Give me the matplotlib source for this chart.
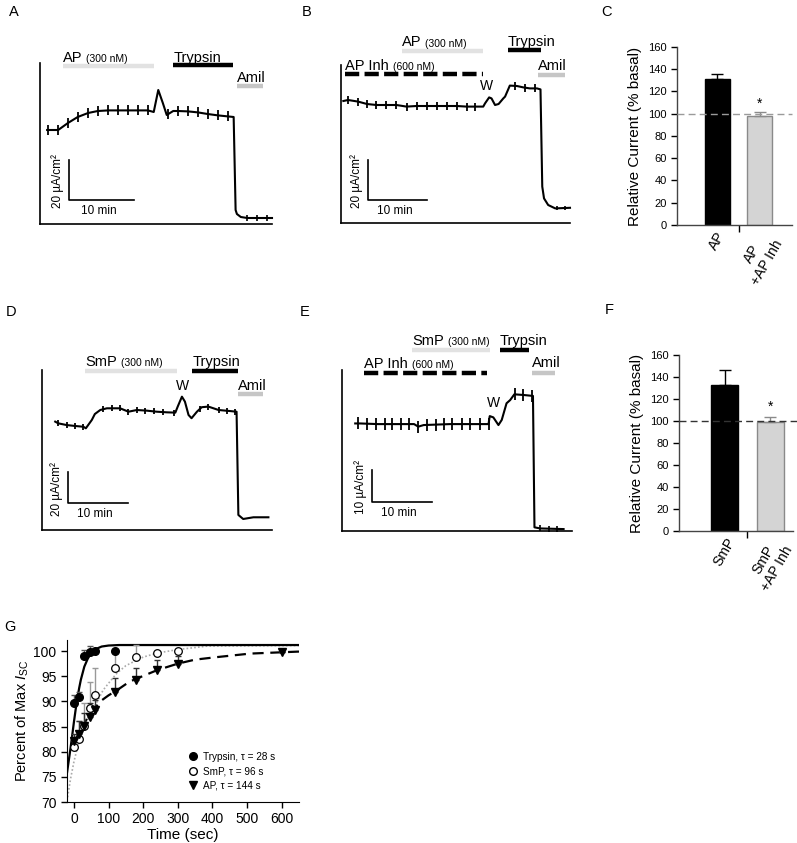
import numpy as np
import matplotlib
matplotlib.use("Agg")
import matplotlib.pyplot as plt
from matplotlib.lines import Line2D

plt.rcParams['font.family'] = ['Liberation Sans', 'DejaVu Sans']
plt.rcParams['mathtext.fontset'] = 'custom'
plt.rcParams['mathtext.rm'] = 'Liberation Sans'
plt.rcParams['mathtext.it'] = 'Liberation Sans:italic'

# ---- datos de las trazas (tiempo en min, corriente en uA/cm2) ----
a_t = [1.1, 2.8, 4.3, 5.8, 7.4, 8.9, 10.5, 12.0, 13.5, 15.1, 16.6, 17.5, 18.2, 18.9, 19.5,
       20.5, 21.2, 22.8, 24.3, 25.8, 27.4, 28.9, 29.8, 30.1, 30.3, 30.9, 31.9, 33.4, 34.9, 35.7]
a_i = [47, 47, 50.5, 53.5, 55.5, 56.5, 56.8, 56.8, 56.8, 56.8, 56.8, 56, 67, 60.5, 54.5,
       56.5, 56.5, 56.3, 55.8, 55, 54.3, 53.8, 53.5, 7, 5, 3.5, 3, 3, 3, 3]
a_ticks = [1.2, 2.8, 4.3, 5.8, 7.4, 8.9, 10.5, 12.0, 13.5, 15.1, 16.6, 19.7, 21.2, 22.8,
           24.3, 25.8, 27.4, 28.9]
a_ticks_small = [31.9, 33.4, 34.9]

b_t = [0.4, 1.2, 2.9, 4.4, 6.0, 7.7, 9.4, 11.1, 12.8, 14.5, 16.2, 17.9, 19.6, 21.3, 22.7,
       24.1, 24.4, 25.1, 25.5, 26.1, 26.7, 27.5, 27.8, 28.4, 28.6, 29.8, 30.9, 32.0, 33.2,
       33.8, 34.1, 34.4, 35.1, 36.3, 38.8]
b_i = [61, 61.5, 60.7, 59.5, 59, 59, 59, 58.2, 58.5, 58.5, 58.5, 58.5, 58.5, 58.2, 58.2,
       58.2, 59.8, 62.8, 62.3, 59, 59.5, 62.3, 63.2, 67.3, 68.7, 68.5, 67.8, 67.3, 67.3,
       66.8, 18.2, 12.3, 9, 7.3, 7.6]
b_ticks = [1.2, 2.9, 4.4, 6.0, 7.7, 9.4, 11.1, 12.8, 14.5, 16.2, 17.9, 19.6, 21.3, 22.7,
           29.5, 31.2, 32.9]
b_ticks_small = [36.6, 38.0]

d_t = [2.2, 2.7, 4.1, 5.5, 6.9, 7.3, 8.3, 8.8, 9.7, 10.8, 11.9, 13.0, 14.4, 15.8, 17.4,
       19.1, 20.8, 22.2, 22.6, 23.3, 23.8, 24.4, 24.9, 25.8, 26.6, 27.7, 29.4, 31.1, 32.4,
       32.7, 33.5, 35.2, 37.7]
d_i = [69.9, 68.8, 67.7, 67.1, 66.6, 65.6, 71, 74.8, 77.4, 78.5, 78.5, 78.5, 76.3, 77.4, 77,
       76.3, 75.9, 75.7, 79.6, 86, 82.8, 74.2, 72.1, 76.3, 79.2, 79.6, 77.4, 76.8, 76.3,
       9.7, 7.1, 8.2, 8.2]
d_ticks = [2.7, 4.1, 5.5, 6.9, 10.2, 11.6, 13.0, 14.4, 15.8, 17.2, 18.6, 20.2, 21.9, 26.3,
           27.7, 29.4, 30.8, 32.2]

e_t = [2.2, 3.0, 6.0, 10.0, 12.0, 12.7, 13.6, 18.0, 24.4, 24.6, 25.2, 26.05, 26.6, 27.4,
       28.0, 28.7, 30.2, 31.8, 32.05, 33.0, 36.9]
e_i = [33.6, 33.6, 33.4, 33.4, 33.4, 32.6, 33.1, 33.4, 33.4, 35.9, 35.5, 33.1, 34.7, 39.9,
       40.9, 42.7, 42.5, 42.2, 1.15, 0.8, 0.6]
e_ticks = [2.7, 4.2, 5.7, 7.1, 8.4, 9.8, 11.2, 12.7, 14.1, 15.6, 17.0, 18.4, 19.9, 21.3,
           22.9, 24.4, 28.8, 30.2, 31.6]
e_ticks_small = [33.0, 34.4, 35.8]

# ---- barras C y F ----
c_labels = ['AP', 'AP\n+AP Inh']
c_vals = [131, 98]
c_err = [5, 3.5]
f_labels = ['SmP', 'SmP\n+AP Inh']
f_vals = [133, 99]
f_err = [13, 5]

# ---- panel G (tiempo en s, % del maximo) ----
g_t_tryp = [0, 15, 30, 45, 60, 120]
g_tryp = [89.7, 90.8, 99.0, 99.9, 100.0, 100.0]
g_tryp_err = [1.6, 1.1, 1.3, 1.2, 0, 0]
g_t_smp = [0, 15, 30, 45, 60, 120, 180, 240, 300]
g_smp = [81.0, 82.6, 85.2, 88.6, 91.2, 96.7, 98.9, 99.6, 100.0]
g_smp_err = [2.0, 3.5, 4.4, 5.2, 5.4, 3.6, 2.3, 0, 0]
g_t_ap = [0, 15, 30, 45, 60, 120, 180, 240, 300, 600]
g_ap = [82.1, 83.5, 85.2, 86.8, 88.2, 91.9, 94.3, 96.2, 97.5, 99.9]
g_ap_err = [1.5, 2.6, 2.5, 2.9, 2.0, 2.7, 2.3, 2.0, 1.5, 0]

fit_tryp_t = [-20, -15, -10, -5, 0, 5, 10, 15, 20, 30, 40, 50, 60, 80, 100, 130, 650]
fit_tryp = [75.8, 78.2, 80.6, 83.2, 85.9, 88.4, 90.6, 92.6, 94.3, 96.9, 98.5, 99.6, 100.3,
            100.9, 101.1, 101.2, 101.2]
fit_smp_t = [-20, -10, 0, 10, 20, 40, 60, 84, 100, 124, 150, 170, 200, 240, 300, 387, 650]
fit_smp = [70.2, 74.5, 78.0, 80.8, 83.0, 86.3, 89.0, 92.2, 93.6, 95.6, 97.1, 97.8, 98.8,
           99.6, 100.3, 101.0, 101.1]
fit_ap_t = [-3, 3, 20, 40, 55, 80, 100, 124, 160, 191, 240, 300, 350, 413, 509, 650]
fit_ap = [81.5, 82.2, 84.5, 86.8, 88.3, 90.2, 91.2, 92.2, 93.9, 94.8, 96.2, 97.5, 98.3,
          98.8, 99.5, 99.9]

W, H = 797, 843
fig = plt.figure(figsize=(W / 100, H / 100), dpi=100)


def box(l, t, r, b):
    return [l / W, 1 - b / H, (r - l) / W, (b - t) / H]


def trace_axes(rect, xmax, ymax):
    ax = fig.add_axes(rect)
    ax.set_xlim(0, xmax)
    ax.set_ylim(0, ymax)
    for s in ['top', 'right']:
        ax.spines[s].set_visible(False)
    for s in ['left', 'bottom']:
        ax.spines[s].set_linewidth(1.2)
    ax.set_xticks([])
    ax.set_yticks([])
    ax.patch.set_alpha(0)
    return ax


def draw_trace(ax, t, i, ticks, ms, small=None):
    ax.plot(t, i, color='k', lw=1.5, clip_on=False, zorder=3)
    ax.plot(ticks, np.interp(ticks, t, i), ls='none', marker='|', ms=ms, mew=1.3,
            color='k', clip_on=False, zorder=3)
    if small:
        ax.plot(small, np.interp(small, t, i), ls='none', marker='|', ms=ms * 0.5,
                mew=1.2, color='k', clip_on=False, zorder=3)


def scale_bar(ax, x0, y0, dy, label):
    ax.plot([x0, x0, x0 + 10], [y0 + dy, y0, y0], color='k', lw=1.2, clip_on=False)
    ax.annotate(label, (x0, y0 + dy / 2), xytext=(-8, -1), textcoords='offset points',
                rotation=90, ha='center', va='center', fontsize=8.5)
    ax.annotate('10 min', (x0 + 5, y0), xytext=(-2, -8), textcoords='offset points',
                ha='center', va='center', fontsize=8.5)


def treat(ax, x0, x1, y, ty, name, conc=None, color='k', dashed=False):
    ls = (0, (3.2, 1.2)) if dashed else '-'
    ax.plot([x0, x1], [y, y], color=color, lw=3.2, ls=ls, clip_on=False,
            solid_capstyle='butt', dash_capstyle='butt')
    t1 = ax.text(x0, ty, name, fontsize=10.5, va='baseline', ha='left', clip_on=False)
    if conc:
        ax.annotate(conc, xy=(1, 0), xycoords=t1, xytext=(3, 0.6),
                    textcoords='offset points', fontsize=7.5, va='bottom', ha='left')


LGRAY = '#e2e2e2'
MGRAY = '#c6c6c6'

# Panel A
ax = trace_axes(box(40, 63, 272, 224), 35.7, 80.5)
draw_trace(ax, a_t, a_i, a_ticks, 7.5, a_ticks_small)
scale_bar(ax, 4.46, 12, 20, '20 µA/cm²')
treat(ax, 3.5, 17.5, 79, 81, 'AP', '(300 nM)', LGRAY)
treat(ax, 20.5, 29.7, 79.5, 81, 'Trypsin')
treat(ax, 30.3, 34.3, 69, 71, 'Amil', color=MGRAY)

# Panel B
ax = trace_axes(box(341, 65, 570, 223), 38.8, 79)
draw_trace(ax, b_t, b_i, b_ticks, 5.5, b_ticks_small)
scale_bar(ax, 4.6, 11.5, 20, '20 µA/cm²')
treat(ax, 10.3, 24.1, 86, 88.3, 'AP', '(300 nM)', LGRAY)
treat(ax, 28.3, 33.9, 86.5, 88.3, 'Trypsin')
treat(ax, 0.7, 24.1, 74.5, 76.6, 'AP Inh', '(600 nM)', dashed=True)
treat(ax, 33.4, 38.0, 74, 76.3, 'Amil', color=MGRAY)
ax.text(24.7, 68.5, 'W', ha='center', va='center', fontsize=10)

# Panel D
ax = trace_axes(box(42, 370, 272, 530), 38.3, 103.2)
draw_trace(ax, d_t, d_i, d_ticks, 5)
scale_bar(ax, 4.33, 17.4, 20, '20 µA/cm²')
treat(ax, 7.2, 22.5, 102.8, 105.6, 'SmP', '(300 nM)', LGRAY)
treat(ax, 25, 32.7, 102.8, 105.6, 'Trypsin')
treat(ax, 32.7, 36.8, 87.5, 90.5, 'Amil', color=MGRAY)
ax.text(23.4, 93, 'W', ha='center', va='center', fontsize=10)

# Panel E
ax = trace_axes(box(342, 370, 572, 531), 38.3, 50.3)
draw_trace(ax, e_t, e_i, e_ticks, 8, e_ticks_small)
scale_bar(ax, 5, 9.1, 10, '10 µA/cm²')
treat(ax, 11.7, 24.7, 56.6, 58.1, 'SmP', '(300 nM)', LGRAY)
treat(ax, 26.3, 31.2, 56.6, 58.1, 'Trypsin')
treat(ax, 3.7, 24.2, 49.5, 50.9, 'AP Inh', '(600 nM)', dashed=True)
treat(ax, 31.7, 35.5, 49.5, 51.1, 'Amil', color=MGRAY)
ax.text(25.2, 39.9, 'W', ha='center', va='center', fontsize=10)


# Panels C y F
def bar_panel(rect, xlim, labels, vals, err, star_y, dash_color, dash_end):
    ax = fig.add_axes(rect)
    x = np.arange(len(vals))
    ax.bar(x, vals, width=0.6, color=['black', '#d4d4d4'], edgecolor=['black', '#8a8a8a'],
           linewidth=1.0, zorder=2)
    ax.errorbar(x[:1], vals[:1], yerr=[[0], err[:1]], fmt='none', ecolor='black',
                elinewidth=1, capsize=4, capthick=1, zorder=3)
    ax.errorbar(x[1:], vals[1:], yerr=[[0], err[1:]], fmt='none', ecolor='#8a8a8a',
                elinewidth=1, capsize=4, capthick=1, zorder=3)
    ax.plot([xlim[0], dash_end], [100, 100], color=dash_color, lw=1, ls=(0, (5, 3)),
            clip_on=False, zorder=4)
    ax.text(1, star_y, '*', ha='center', va='baseline', fontsize=10)
    ax.set_xlim(*xlim)
    ax.set_ylim(0, 160)
    ax.set_yticks(range(0, 161, 20))
    ax.tick_params(axis='y', direction='out', length=4, width=1, labelsize=8)
    ax.set_xticks(x)
    ax.set_xticklabels(labels, rotation=60, ha='center', va='top', fontsize=10,
                       multialignment='center')
    ax.tick_params(axis='x', length=0, pad=3)
    ax.set_xticks([0.5], minor=True)
    ax.tick_params(axis='x', which='minor', direction='out', length=5, width=1)
    ax.set_ylabel('Relative Current (% basal)', fontsize=11, labelpad=4)
    for s in ['top', 'right']:
        ax.spines[s].set_visible(False)
    for s in ['left', 'bottom']:
        ax.spines[s].set_linewidth(1.0)
        ax.spines[s].set_color('#444444')
    return ax


bar_panel(box(677, 47, 792, 225), (-0.96, 1.77), c_labels, c_vals, c_err, 105, '#9a9a9a', 1.77)
bar_panel(box(679, 355, 793, 531), (-1.0, 1.5), f_labels, f_vals, f_err, 109, '#333333', 1.59)

# Panel G
ax = fig.add_axes(box(67, 640, 299, 802))
ax.plot(fit_smp_t, fit_smp, color='#aaaaaa', lw=1.2, ls=(0, (1, 1.3)), zorder=1)
ax.plot(fit_tryp_t, fit_tryp, color='black', lw=1.6, zorder=2)
ax.plot(fit_ap_t, fit_ap, color='black', lw=1.6, ls=(0, (5, 3)), zorder=2)
ax.errorbar(g_t_smp, g_smp, yerr=[np.zeros(len(g_smp)), g_smp_err], fmt='none',
            ecolor='#999999', elinewidth=1, capsize=2.5, zorder=3)
ax.errorbar(g_t_ap, g_ap, yerr=[np.zeros(len(g_ap)), g_ap_err], fmt='none',
            ecolor='#333333', elinewidth=1, capsize=2.5, zorder=3)
ax.errorbar(g_t_tryp, g_tryp, yerr=[np.zeros(len(g_tryp)), g_tryp_err], fmt='none',
            ecolor='#555555', elinewidth=1, capsize=2.5, zorder=3)
ax.plot(g_t_smp, g_smp, ls='none', marker='o', ms=5.5, mfc='white', mec='black', mew=0.9,
        zorder=4)
ax.plot(g_t_ap, g_ap, ls='none', marker='v', ms=5.5, color='black', zorder=5)
ax.plot(g_t_tryp, g_tryp, ls='none', marker='o', ms=5.5, color='black', zorder=6)
ax.set_xlim(-20, 650)
ax.set_ylim(70, 102.2)
ax.set_xticks(range(0, 601, 100))
ax.set_yticks(range(70, 101, 5))
ax.tick_params(direction='out', length=4, width=1, labelsize=10)
for s in ['top', 'right']:
    ax.spines[s].set_visible(False)
ax.set_xlabel('Time (sec)', fontsize=11, labelpad=1)
ax.set_ylabel(r'Percent of Max $\mathit{I}_{\mathrm{SC}}$', fontsize=10.5, labelpad=2)
handles = [Line2D([], [], ls='none', marker='o', ms=5.5, color='black'),
           Line2D([], [], ls='none', marker='o', ms=5.5, mfc='white', mec='black'),
           Line2D([], [], ls='none', marker='v', ms=5.5, color='black')]
ax.legend(handles, ['Trypsin, τ = 28 s', 'SmP, τ = 96 s', 'AP, τ = 144 s'],
          loc='lower right', bbox_to_anchor=(0.92, 0.04), frameon=False, fontsize=7.2,
          handletextpad=0.5, labelspacing=0.45, borderpad=0, handlelength=1.0)

# letras de los paneles
for lab, x, y in [('A', 14, 12), ('B', 307, 12), ('C', 607, 12), ('D', 11, 312),
                  ('E', 305, 312), ('F', 609, 310), ('G', 10, 627)]:
    fig.text(x / W, 1 - y / H, lab, ha='center', va='center', fontsize=10.5)

fig.savefig('out.png', dpi=100)
